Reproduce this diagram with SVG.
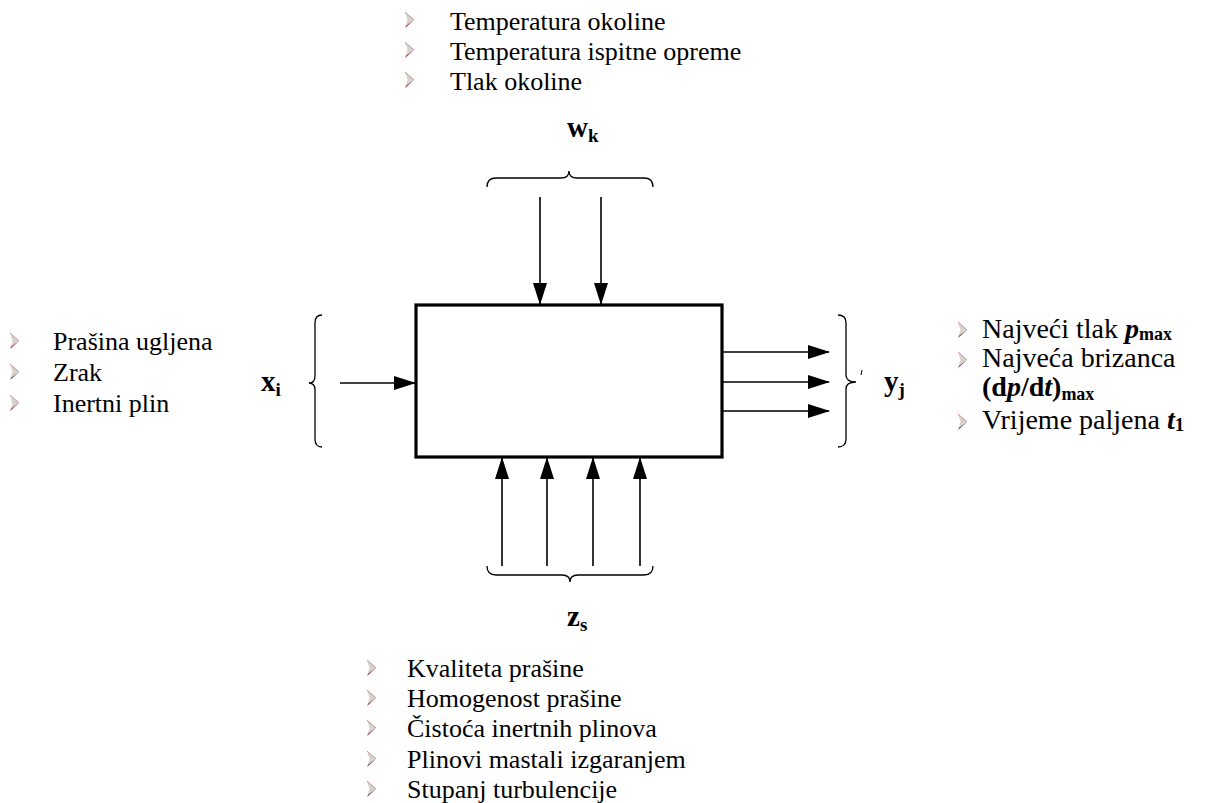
<svg xmlns="http://www.w3.org/2000/svg" width="1220" height="803" viewBox="0 0 1220 803">
<style>
.t{font-family:"Liberation Serif","Tinos","Nimbus Roman","Noto Serif","DejaVu Serif",serif;font-size:26px;font-weight:normal;fill:#000}
.r{font-size:28px}
.b{font-weight:bold}
.i{font-style:italic;font-weight:bold}
.lbl{font-family:"Liberation Serif","Tinos","Nimbus Roman","Noto Serif","DejaVu Serif",serif;font-size:29px;font-weight:bold;fill:#000}
.sub{font-size:19px}
.ln{stroke:#000;stroke-width:1.6;fill:none}
.br{stroke:#000;stroke-width:1.3;fill:none}
.box{stroke:#000;stroke-width:3.2;fill:#fff}
</style>
<defs>
<marker id="ah" markerUnits="userSpaceOnUse" markerWidth="22" markerHeight="14" viewBox="0 0 22 14" refX="21" refY="7" orient="auto">
<path d="M0,0 L22,7 L0,14 Z" fill="#000"/>
</marker>
<g id="bul">
<path d="M0,0 L9,8 L0,16 L2.5,8 Z" fill="#d4d4cc"/>
<path d="M9,8 L0,16 L1.5,13.5 Z" fill="#8a1e3c"/>
<path d="M0,0 L9,8" stroke="#c89098" stroke-width="1" fill="none"/>
</g>
</defs>

<g id="connectors">
<line class="ln" x1="540" y1="197" x2="540" y2="304" marker-end="url(#ah)"/>
<line class="ln" x1="601" y1="197" x2="601" y2="304" marker-end="url(#ah)"/>
<line class="ln" x1="340" y1="383" x2="415" y2="383" marker-end="url(#ah)"/>
<line class="ln" x1="723" y1="352" x2="829" y2="352" marker-end="url(#ah)"/>
<line class="ln" x1="723" y1="382" x2="829" y2="382" marker-end="url(#ah)"/>
<line class="ln" x1="723" y1="411" x2="829" y2="411" marker-end="url(#ah)"/>
<line class="ln" x1="502" y1="566" x2="502" y2="458" marker-end="url(#ah)"/>
<line class="ln" x1="547" y1="566" x2="547" y2="458" marker-end="url(#ah)"/>
<line class="ln" x1="593" y1="566" x2="593" y2="458" marker-end="url(#ah)"/>
<line class="ln" x1="640" y1="566" x2="640" y2="458" marker-end="url(#ah)"/>
</g>

<g id="system">
<rect class="box" x="416" y="305" width="306" height="152"/>
</g>

<g id="w">
<path class="br" d="M487,187 Q487,178 496,178 L561,178 Q569,178 569,171 Q569,178 577,178 L644,178 Q653,178 653,187"/>
<text class="lbl" x="567" y="137">w<tspan class="sub" dy="5">k</tspan></text>
<use href="#bul" x="405" y="12"/>
<use href="#bul" x="405" y="42"/>
<use href="#bul" x="405" y="72"/>
<text class="t" x="450" y="30">Temperatura okoline</text>
<text class="t" x="450" y="60">Temperatura ispitne opreme</text>
<text class="t" x="450" y="90">Tlak okoline</text>
</g>

<g id="x">
<path class="br" d="M322,315 Q315,315 315,323 L315,376 Q315,383 309,383 Q315,383 315,390 L315,439 Q315,447 322,447"/>
<text class="lbl" x="261" y="391">x<tspan class="sub" dy="5">i</tspan></text>
<use href="#bul" x="10" y="333"/>
<use href="#bul" x="10" y="364"/>
<use href="#bul" x="10" y="395"/>
<text class="t" x="53" y="350">Prašina ugljena</text>
<text class="t" x="53" y="381">Zrak</text>
<text class="t" x="53" y="412">Inertni plin</text>
</g>

<g id="y">
<path class="br" d="M838,315 Q846,315 846,323 L846,375 Q846,382 856,382 Q846,382 846,389 L846,439 Q846,447 838,447"/>
<path d="M862,370 L861,375" stroke="#000" stroke-width="1"/>
<text class="lbl" x="884" y="391">y<tspan class="sub" dy="5">j</tspan></text>
<use href="#bul" x="958" y="322"/>
<use href="#bul" x="958" y="352"/>
<use href="#bul" x="958" y="414"/>
<text class="t r" x="982" y="338">Najveći tlak <tspan class="i">p</tspan><tspan class="b" font-size="18px" dy="2">max</tspan></text>
<text class="t r" x="982" y="367">Najveća brizanca</text>
<text class="t r b" x="982" y="396">(d<tspan class="i">p</tspan>/d<tspan class="i">t</tspan>)<tspan font-size="18px" dy="4">max</tspan></text>
<text class="t r" x="982" y="429">Vrijeme paljena <tspan class="i">t</tspan><tspan class="b" font-size="19px" dy="2">1</tspan></text>
</g>

<g id="z">
<path class="br" d="M487,566 Q487,575 496,575 L562,575 Q570,575 570,582 Q570,575 578,575 L644,575 Q653,575 653,566"/>
<text class="lbl" x="567" y="626">z<tspan class="sub" dy="5">s</tspan></text>
<use href="#bul" x="367" y="660"/>
<use href="#bul" x="367" y="690"/>
<use href="#bul" x="367" y="720"/>
<use href="#bul" x="367" y="751"/>
<use href="#bul" x="367" y="781"/>
<text class="t" x="407" y="677">Kvaliteta prašine</text>
<text class="t" x="407" y="707">Homogenost prašine</text>
<text class="t" x="407" y="737">Čistoća inertnih plinova</text>
<text class="t" x="407" y="768">Plinovi mastali izgaranjem</text>
<text class="t" x="407" y="798">Stupanj turbulencije</text>
</g>
</svg>
